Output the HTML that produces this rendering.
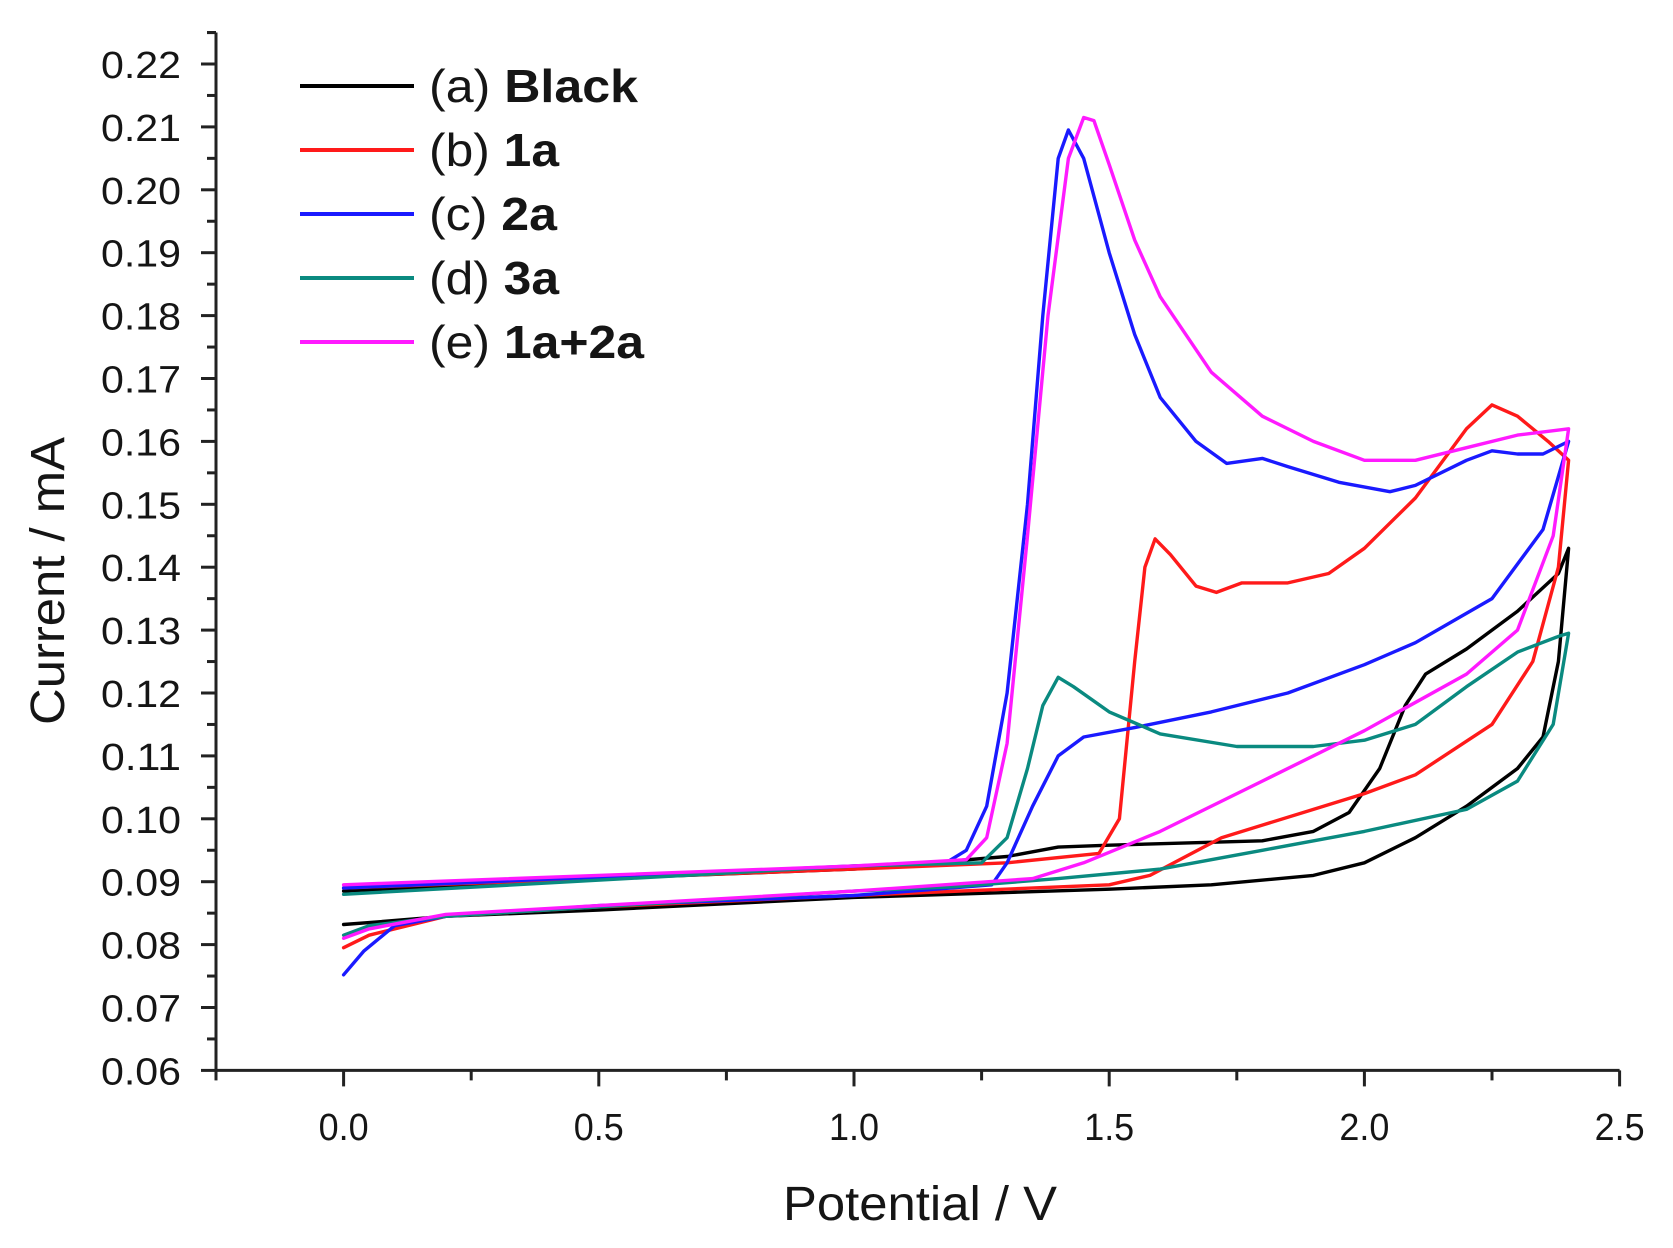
<!DOCTYPE html>
<html><head><meta charset="utf-8">
<style>
html,body{margin:0;padding:0;background:#fff;}
svg{display:block;}
text{font-family:"Liberation Sans Narrow","Liberation Sans",Arial,sans-serif;fill:#151515;}
</style></head>
<body>
<svg id="s" width="1673" height="1248" viewBox="0 0 1673 1248" xmlns="http://www.w3.org/2000/svg">
<rect width="1673" height="1248" fill="#fff"/>
<g id="axes" stroke="#222" stroke-width="3" fill="none"></g>
<g id="labels"></g>
<g id="curves" fill="none" stroke-width="3.4" stroke-linejoin="round" stroke-linecap="round"></g>
<g id="legend"></g>
<text x="920" y="1220" font-size="48" text-anchor="middle" textLength="274" lengthAdjust="spacingAndGlyphs">Potential / V</text>
<text transform="translate(64,581) rotate(-90)" font-size="48" text-anchor="middle" textLength="288" lengthAdjust="spacingAndGlyphs">Current / mA</text>
</svg>
<script>
var NS="http://www.w3.org/2000/svg";
function X(v){return 343.6+v*510.4;}
function Y(c){return 64+(0.22-c)*6290;}
function el(p,t,a,txt){var e=document.createElementNS(NS,t);for(var k in a)e.setAttribute(k,a[k]);if(txt!==undefined)e.textContent=txt;p.appendChild(e);return e;}
var ax=document.getElementById('axes'),lb=document.getElementById('labels');
var x0=X(-0.25),yb=Y(0.06);
el(ax,'line',{x1:x0,y1:Y(0.225),x2:x0,y2:yb});
el(ax,'line',{x1:x0,y1:yb,x2:X(2.5),y2:yb});
for(var i=0;i<=33;i++){var c=0.06+i*0.005;var maj=(i%2==0);
 el(ax,'line',{x1:x0-(maj?15:9),y1:Y(c),x2:x0,y2:Y(c)});
 if(maj) el(lb,'text',{x:101,y:Y(c)+14,'font-size':38,textLength:80,lengthAdjust:'spacingAndGlyphs'},c.toFixed(2));}
el(ax,'line',{x1:x0-9,y1:Y(0.225),x2:x0,y2:Y(0.225)});
for(var i=0;i<=11;i++){var v=-0.25+i*0.25;var maj=(i%2==1);
 el(ax,'line',{x1:X(v),y1:yb,x2:X(v),y2:yb+(maj?16:10)});
 if(maj) el(lb,'text',{x:X(v)-25,y:1140,'font-size':38,textLength:50,lengthAdjust:'spacingAndGlyphs'},v.toFixed(1));}
var D={
'#000':[[0,0.0885],[0.5,0.0905],[1.0,0.092],[1.3,0.094],[1.4,0.0955],[1.5,0.0958],[1.8,0.0965],[1.9,0.098],[1.97,0.101],[2.03,0.108],[2.08,0.118],[2.12,0.123],[2.2,0.127],[2.3,0.133],[2.38,0.139],[2.4,0.143],[2.38,0.125],[2.35,0.113],[2.3,0.108],[2.2,0.102],[2.1,0.097],[2.0,0.093],[1.9,0.091],[1.7,0.0895],[1.5,0.0888],[1.0,0.0875],[0.5,0.0855],[0.2,0.0845],[0.05,0.0835],[0,0.0832]],
'#ff1a1a':[[0,0.089],[1.0,0.092],[1.3,0.093],[1.48,0.0945],[1.52,0.100],[1.55,0.125],[1.57,0.140],[1.59,0.1445],[1.62,0.142],[1.67,0.137],[1.71,0.136],[1.76,0.1375],[1.85,0.1375],[1.93,0.139],[2.0,0.143],[2.1,0.151],[2.2,0.162],[2.25,0.1658],[2.3,0.164],[2.36,0.160],[2.4,0.157],[2.38,0.140],[2.33,0.125],[2.25,0.115],[2.1,0.107],[2.0,0.104],[1.9,0.1015],[1.8,0.099],[1.72,0.097],[1.65,0.094],[1.58,0.091],[1.5,0.0895],[1.0,0.0878],[0.5,0.086],[0.2,0.0845],[0.05,0.0815],[0,0.0795]],
'#1a1aff':[[0,0.089],[1.0,0.0925],[1.18,0.093],[1.22,0.095],[1.26,0.102],[1.3,0.120],[1.34,0.150],[1.37,0.180],[1.40,0.205],[1.42,0.2095],[1.45,0.205],[1.5,0.190],[1.55,0.177],[1.6,0.167],[1.67,0.160],[1.73,0.1565],[1.8,0.1573],[1.85,0.156],[1.95,0.1535],[2.05,0.152],[2.1,0.153],[2.2,0.157],[2.25,0.1585],[2.3,0.158],[2.35,0.158],[2.4,0.160],[2.35,0.146],[2.25,0.135],[2.1,0.128],[2.0,0.1245],[1.85,0.120],[1.7,0.117],[1.55,0.1145],[1.45,0.113],[1.40,0.110],[1.35,0.102],[1.3,0.093],[1.27,0.0895],[1.0,0.0878],[0.5,0.0862],[0.2,0.0845],[0.1,0.083],[0.04,0.079],[0,0.0752]],
'#0a8a80':[[0,0.088],[1.0,0.0925],[1.25,0.093],[1.3,0.097],[1.34,0.108],[1.37,0.118],[1.40,0.1225],[1.43,0.121],[1.5,0.117],[1.6,0.1135],[1.75,0.1115],[1.9,0.1115],[2.0,0.1125],[2.1,0.115],[2.2,0.121],[2.3,0.1265],[2.38,0.129],[2.4,0.1295],[2.37,0.115],[2.3,0.106],[2.2,0.1015],[2.0,0.098],[1.8,0.095],[1.6,0.092],[1.4,0.0905],[1.2,0.0892],[1.0,0.0885],[0.5,0.086],[0.2,0.0845],[0.05,0.083],[0,0.0815]],
'#ff1aff':[[0,0.0895],[1.0,0.0925],[1.22,0.0935],[1.26,0.097],[1.3,0.112],[1.34,0.145],[1.38,0.180],[1.42,0.205],[1.45,0.2115],[1.47,0.211],[1.5,0.204],[1.55,0.192],[1.6,0.183],[1.7,0.171],[1.8,0.164],[1.9,0.160],[2.0,0.157],[2.1,0.157],[2.2,0.159],[2.3,0.161],[2.4,0.162],[2.37,0.145],[2.3,0.130],[2.2,0.123],[2.0,0.114],[1.8,0.106],[1.6,0.098],[1.45,0.093],[1.35,0.0905],[1.0,0.0885],[0.5,0.0862],[0.2,0.0848],[0.05,0.0825],[0,0.081]]};
var cv=document.getElementById('curves');
for(var col in D){var pts=D[col].map(function(p){return X(p[0]).toFixed(1)+','+Y(p[1]).toFixed(1);}).join(' ');
 el(cv,'polyline',{points:pts,stroke:col});}
var lg=document.getElementById('legend');
var L=[['#000','(a) ','Black',209],['#ff1a1a','(b) ','1a',130],['#1a1aff','(c) ','2a',128],['#0a8a80','(d) ','3a',130],['#ff1aff','(e) ','1a+2a',215]];
L.forEach(function(l,i){var y=86+i*64;
 el(lg,'line',{x1:300,y1:y,x2:414,y2:y,stroke:l[0],'stroke-width':4});
 var t=el(lg,'text',{x:429,y:y+16,'font-size':46,textLength:l[3],lengthAdjust:'spacingAndGlyphs'});
 el(t,'tspan',{},l[1]);el(t,'tspan',{'font-weight':'bold'},l[2]);});
</script>
</body></html>
